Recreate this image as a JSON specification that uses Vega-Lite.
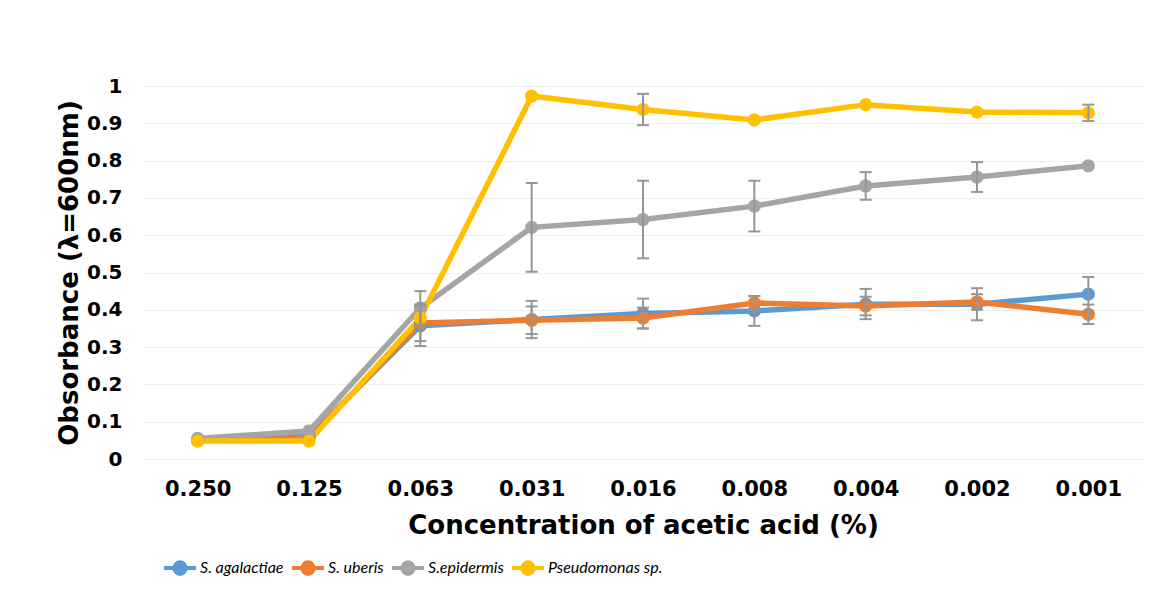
{
  "$schema": "https://vega.github.io/schema/vega-lite/v6.json",
  "width": 1002,
  "height": 373,
  "autosize": "none",
  "padding": {"left": 142, "top": 86, "right": 14, "bottom": 141},
  "background": "white",
  "config": {
    "view": {"stroke": null},
    "font": "DejaVu Sans",
    "axisY": {"tickCount": 10, "labelOverlap": false}
  },
  "data": {
    "values": [
      {"conc": "0.250", "series": "S. agalactiae", "value": 0.05},
      {"conc": "0.125", "series": "S. agalactiae", "value": 0.06},
      {"conc": "0.063", "series": "S. agalactiae", "value": 0.357, "lo": 0.303, "hi": 0.411},
      {"conc": "0.031", "series": "S. agalactiae", "value": 0.374, "lo": 0.324, "hi": 0.424},
      {"conc": "0.016", "series": "S. agalactiae", "value": 0.39, "lo": 0.35, "hi": 0.43},
      {"conc": "0.008", "series": "S. agalactiae", "value": 0.397, "lo": 0.357, "hi": 0.437},
      {"conc": "0.004", "series": "S. agalactiae", "value": 0.415, "lo": 0.375, "hi": 0.456},
      {"conc": "0.002", "series": "S. agalactiae", "value": 0.415, "lo": 0.372, "hi": 0.458},
      {"conc": "0.001", "series": "S. agalactiae", "value": 0.442, "lo": 0.396, "hi": 0.488},
      {"conc": "0.250", "series": "S. uberis", "value": 0.05},
      {"conc": "0.125", "series": "S. uberis", "value": 0.055},
      {"conc": "0.063", "series": "S. uberis", "value": 0.365, "lo": 0.316, "hi": 0.414},
      {"conc": "0.031", "series": "S. uberis", "value": 0.372, "lo": 0.335, "hi": 0.409},
      {"conc": "0.016", "series": "S. uberis", "value": 0.378, "lo": 0.35, "hi": 0.406},
      {"conc": "0.008", "series": "S. uberis", "value": 0.418, "lo": 0.4, "hi": 0.436},
      {"conc": "0.004", "series": "S. uberis", "value": 0.41, "lo": 0.385, "hi": 0.435},
      {"conc": "0.002", "series": "S. uberis", "value": 0.421, "lo": 0.4, "hi": 0.442},
      {"conc": "0.001", "series": "S. uberis", "value": 0.388, "lo": 0.362, "hi": 0.414},
      {"conc": "0.250", "series": "S.epidermis", "value": 0.055},
      {"conc": "0.125", "series": "S.epidermis", "value": 0.075},
      {"conc": "0.063", "series": "S.epidermis", "value": 0.405, "lo": 0.36, "hi": 0.45},
      {"conc": "0.031", "series": "S.epidermis", "value": 0.621, "lo": 0.502, "hi": 0.74},
      {"conc": "0.016", "series": "S.epidermis", "value": 0.642, "lo": 0.538, "hi": 0.746},
      {"conc": "0.008", "series": "S.epidermis", "value": 0.678, "lo": 0.61, "hi": 0.746},
      {"conc": "0.004", "series": "S.epidermis", "value": 0.732, "lo": 0.695, "hi": 0.769},
      {"conc": "0.002", "series": "S.epidermis", "value": 0.756, "lo": 0.716, "hi": 0.796},
      {"conc": "0.001", "series": "S.epidermis", "value": 0.786},
      {"conc": "0.250", "series": "Pseudomonas sp.", "value": 0.048},
      {"conc": "0.125", "series": "Pseudomonas sp.", "value": 0.048},
      {"conc": "0.063", "series": "Pseudomonas sp.", "value": 0.378},
      {"conc": "0.031", "series": "Pseudomonas sp.", "value": 0.973},
      {"conc": "0.016", "series": "Pseudomonas sp.", "value": 0.937, "lo": 0.895, "hi": 0.979},
      {"conc": "0.008", "series": "Pseudomonas sp.", "value": 0.909},
      {"conc": "0.004", "series": "Pseudomonas sp.", "value": 0.95},
      {"conc": "0.002", "series": "Pseudomonas sp.", "value": 0.93},
      {"conc": "0.001", "series": "Pseudomonas sp.", "value": 0.928, "lo": 0.906, "hi": 0.95}
    ]
  },
  "encoding": {
    "x": {
      "field": "conc",
      "type": "ordinal",
      "sort": null,
      "scale": {"type": "point", "padding": 0.5},
      "axis": {
        "title": "Concentration of acetic acid (%)",
        "labelAngle": 0,
        "labelFont": "DejaVu Sans",
        "labelFontWeight": "bold",
        "labelFontSize": 21,
        "labelColor": "black",
        "labelPadding": 19,
        "domain": false,
        "ticks": false,
        "grid": false,
        "titleFont": "DejaVu Sans",
        "titleFontWeight": "bold",
        "titleFontSize": 26,
        "titleColor": "black",
        "titlePadding": 13
      }
    }
  },
  "layer": [
    {
      "mark": {"type": "line", "strokeWidth": 5.5},
      "encoding": {
        "y": {
          "field": "value",
          "type": "quantitative",
          "scale": {"domain": [0, 1], "nice": false},
          "axis": {
            "title": "Obsorbance (λ=600nm)",
            "tickCount": 10,
            "format": "~g",
            "labelOverlap": false,
            "labelFont": "DejaVu Sans",
            "labelFontWeight": "bold",
            "labelFontSize": 20,
            "labelColor": "black",
            "labelPadding": 20,
            "domain": false,
            "ticks": false,
            "gridColor": "#eeeeee",
            "gridWidth": 1,
            "titleFont": "DejaVu Sans",
            "titleFontWeight": "bold",
            "titleFontSize": 26,
            "titleColor": "black",
            "titlePadding": 4
          }
        },
        "color": {
          "field": "series",
          "type": "nominal",
          "sort": null,
          "scale": {
            "domain": ["S. agalactiae", "S. uberis", "S.epidermis", "Pseudomonas sp."],
            "range": ["#5B9BD5", "#ED7D31", "#A5A5A5", "#FFC000"]
          },
          "legend": {
            "title": null,
            "orient": "none",
            "direction": "horizontal",
            "legendX": 20,
            "legendY": 464,
            "labelFont": "Lato",
            "labelFontStyle": "italic",
            "labelFontSize": 16,
            "labelColor": "black",
            "labelOffset": 2,
            "columnPadding": 0,
            "symbolType": "M-1,0L1,0M0.36,0A0.36,0.36,0,1,1,-0.36,0A0.36,0.36,0,1,1,0.36,0Z",
            "symbolSize": 1024,
            "symbolStrokeWidth": 4,
            "encode": {
              "symbols": {
                "update": {
                  "fill": {"scale": "color", "field": "value"},
                  "stroke": {"scale": "color", "field": "value"},
                  "fillOpacity": {"value": 1},
                  "opacity": {"value": 1}
                }
              }
            }
          }
        }
      }
    },
    {
      "mark": {"type": "point", "filled": true, "size": 175, "opacity": 1},
      "encoding": {
        "y": {"field": "value", "type": "quantitative"},
        "color": {"field": "series", "type": "nominal", "sort": null}
      }
    },
    {
      "transform": [{"filter": "isValid(datum.lo)"}],
      "mark": {"type": "rule", "color": "#969696", "strokeWidth": 2},
      "encoding": {
        "y": {"field": "lo", "type": "quantitative"},
        "y2": {"field": "hi"}
      }
    },
    {
      "transform": [{"filter": "isValid(datum.lo)"}],
      "mark": {"type": "tick", "color": "#969696", "thickness": 2, "size": 12, "orient": "horizontal", "opacity": 1},
      "encoding": {
        "y": {"field": "lo", "type": "quantitative"}
      }
    },
    {
      "transform": [{"filter": "isValid(datum.hi)"}],
      "mark": {"type": "tick", "color": "#969696", "thickness": 2, "size": 12, "orient": "horizontal", "opacity": 1},
      "encoding": {
        "y": {"field": "hi", "type": "quantitative"}
      }
    }
  ]
}
